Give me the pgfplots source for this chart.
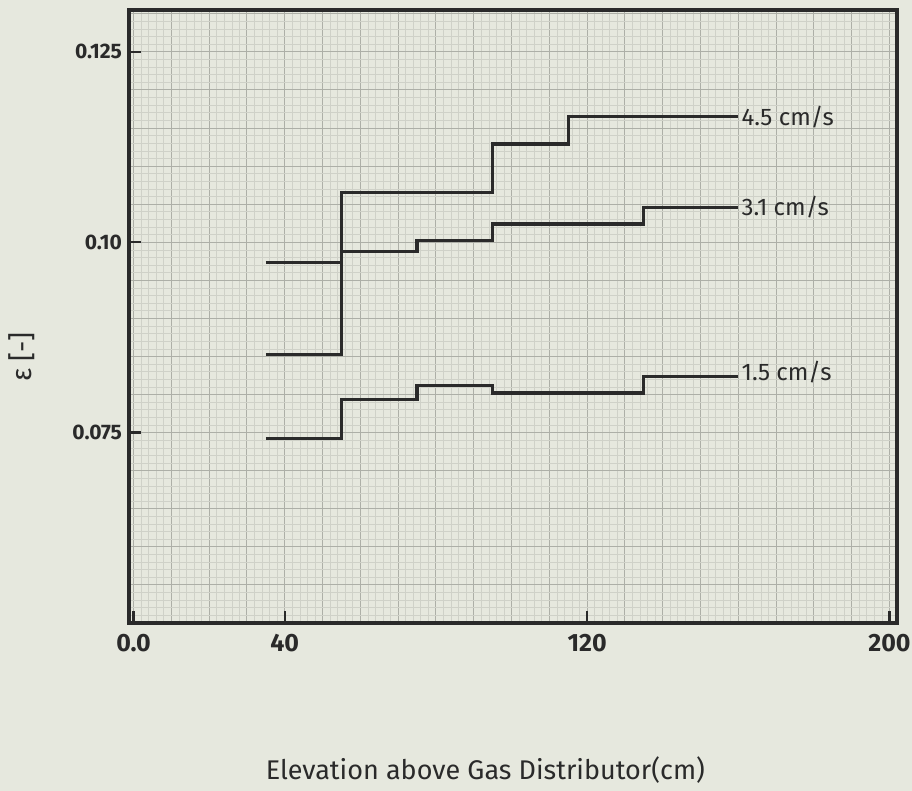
\documentclass[border=0pt]{standalone}
\usepackage{pgfplots}
\pgfplotsset{compat=1.18}
\usepackage{fontspec}
\setmainfont{Fira Sans}
\definecolor{paper}{HTML}{E6E8DE}
\definecolor{mingrid}{HTML}{CFD1C8}
\definecolor{majgrid}{HTML}{ADAFA7}
\definecolor{ink}{HTML}{2A2A2A}
\begin{document}
\begin{tikzpicture}
\path[use as bounding box, fill=paper] (-64.5pt,-84pt) rectangle (391.5pt,311.5pt);
\begin{axis}[
  scale only axis, width=384pt, height=306.5pt,
  xmin=-1.2, xmax=202, ymin=0.05, ymax=0.1305,
  /pgf/number format/assume math mode=true,
  axis line style={ink, line width=1.8pt},
  xtick pos=left, ytick pos=left,
  xtick={0,10,...,200}, xticklabels={},
  ytick={0.05,0.055,0.06,0.065,0.07,0.075,0.08,0.085,0.09,0.095,0.1,0.105,0.11,0.115,0.12,0.125,0.13},
  yticklabels={},
  minor x tick num=4, minor y tick num=4,
  major tick length=0pt, minor tick length=0pt,
  grid=both,
  major grid style={majgrid, line width=0.5pt},
  minor grid style={mingrid, line width=0.3pt},
  extra x ticks={0,40,120,200}, extra x tick labels={0.0,40,120,200},
  extra y ticks={0.075,0.1,0.125}, extra y tick labels={0.075,0.10,0.125},
  extra tick style={major tick length=6pt, grid=none, tick align=inside, major tick style={ink, line width=1.2pt}},
  xticklabel style={font=\bfseries\fontsize{12.5}{14}\selectfont, color=ink, yshift=-2pt},
  yticklabel style={font=\bfseries\fontsize{10.5}{12}\selectfont, color=ink},
  xlabel={Elevation above Gas Distributor(cm)},
  xlabel style={at={(axis description cs:0.464,-0.24)}, anchor=center, font=\fontsize{13.5}{15}\selectfont, color=ink},
  ylabel={ε [-]},
  ylabel style={at={(axis description cs:-0.1393,0.434)}, anchor=center, font=\fontsize{14}{16}\selectfont, color=ink},
]
\addplot[const plot, ink, line width=1.6pt] coordinates {(35,0.0853) (55,0.1065) (95,0.1129) (115,0.1165) (160,0.1165)};
\addplot[const plot, ink, line width=1.6pt] coordinates {(35,0.0973) (55,0.0988) (75,0.1002) (95,0.1024) (135,0.1046) (160,0.1046)};
\addplot[const plot, ink, line width=1.6pt] coordinates {(35,0.0742) (55,0.0793) (75,0.0812) (95,0.0802) (135,0.0824) (160,0.0824)};
\node[anchor=west, inner sep=1.5pt, font=\fontsize{12}{14}\selectfont, text=ink] at (axis cs:160,0.1165) {4.5 cm/s};
\node[anchor=west, inner sep=1.5pt, font=\fontsize{12}{14}\selectfont, text=ink] at (axis cs:160,0.1046) {3.1 cm/s};
\node[anchor=west, inner sep=1.5pt, font=\fontsize{12}{14}\selectfont, text=ink] at (axis cs:160,0.0830) {1.5 cm/s};
\end{axis}
\end{tikzpicture}
\end{document}
